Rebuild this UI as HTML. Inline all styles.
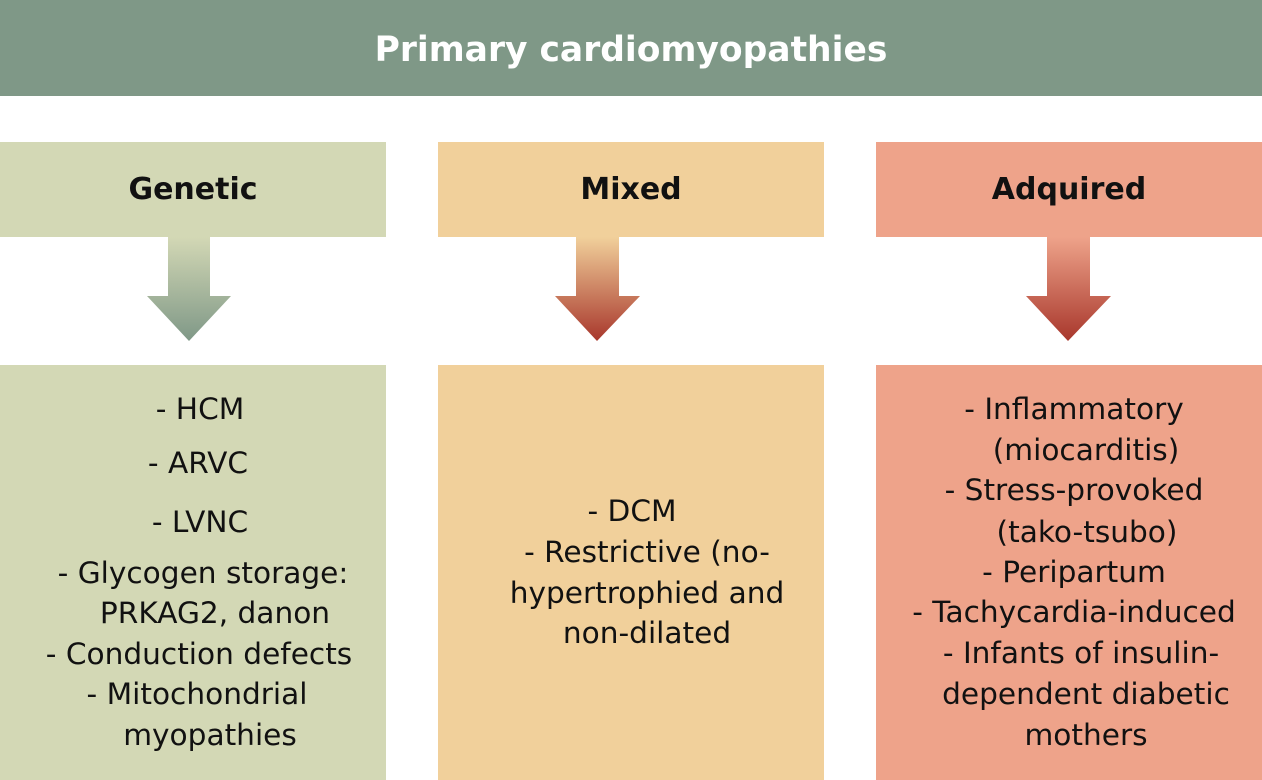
<!DOCTYPE html>
<html><head><style>
body{margin:0;width:1262px;height:780px;position:relative;background:#fff;font-family:"DejaVu Sans","Liberation Sans",sans-serif;overflow:hidden}
.b{position:absolute}
.t{position:absolute;white-space:nowrap;transform:translate(-50%,-50%);font-size:29.6px;color:#111;line-height:1}
.h{font-weight:bold;font-size:30px}
</style></head><body>
<div class="b" style="left:0;top:0;width:1262px;height:96px;background:#7f9887"></div>
<div class="t" style="left:631px;top:50px;color:#fff;font-weight:bold;font-size:34.5px">Primary cardiomyopathies</div>

<div class="b" style="left:0;top:142px;width:386px;height:95px;background:#d3d8b5"></div>
<div class="b" style="left:438px;top:142px;width:386px;height:95px;background:#f1d09b"></div>
<div class="b" style="left:876px;top:142px;width:386px;height:95px;background:#eea38a"></div>
<div class="t h" style="left:193px;top:190px">Genetic</div>
<div class="t h" style="left:631px;top:190px">Mixed</div>
<div class="t h" style="left:1069px;top:190px">Adquired</div>

<svg class="b" style="left:0;top:0" width="1262" height="780">
<defs>
<linearGradient id="g1" x1="0" y1="0" x2="0" y2="1"><stop offset="0" stop-color="#d3d8b5"/><stop offset="1" stop-color="#7f9887"/></linearGradient>
<linearGradient id="g2" x1="0" y1="0" x2="0" y2="1"><stop offset="0" stop-color="#f1d09b"/><stop offset="1" stop-color="#a8372c"/></linearGradient>
<linearGradient id="g3" x1="0" y1="0" x2="0" y2="1"><stop offset="0" stop-color="#eea38a"/><stop offset="1" stop-color="#a8372c"/></linearGradient>
</defs>
<polygon fill="url(#g1)" points="168,237 210,237 210,296 231,296 189,341 147,296 168,296"/>
<polygon fill="url(#g2)" points="576,237 619,237 619,296 640,296 597,341 555,296 576,296"/>
<polygon fill="url(#g3)" points="1047,237 1090,237 1090,296 1111,296 1068,341 1026,296 1047,296"/>
</svg>

<div class="b" style="left:0;top:365px;width:386px;height:415px;background:#d3d8b5"></div>
<div class="b" style="left:438px;top:365px;width:386px;height:415px;background:#f1d09b"></div>
<div class="b" style="left:876px;top:365px;width:386px;height:415px;background:#eea38a"></div>

<div class="t" style="left:200px;top:410px">- HCM</div>
<div class="t" style="left:198px;top:464px">- ARVC</div>
<div class="t" style="left:200px;top:523px">- LVNC</div>
<div class="t" style="left:203px;top:574px">- Glycogen storage:</div>
<div class="t" style="left:215px;top:614px">PRKAG2, danon</div>
<div class="t" style="left:199px;top:655px">- Conduction defects</div>
<div class="t" style="left:197px;top:695px">- Mitochondrial</div>
<div class="t" style="left:210px;top:736px">myopathies</div>

<div class="t" style="left:632px;top:512px">- DCM</div>
<div class="t" style="left:647px;top:553px">- Restrictive (no-</div>
<div class="t" style="left:647px;top:594px">hypertrophied and</div>
<div class="t" style="left:647px;top:634px">non-dilated</div>

<div class="t" style="left:1074px;top:410px">- Inflammatory</div>
<div class="t" style="left:1086px;top:451px">(miocarditis)</div>
<div class="t" style="left:1074px;top:491px">- Stress-provoked</div>
<div class="t" style="left:1087px;top:533px">(tako-tsubo)</div>
<div class="t" style="left:1074px;top:573px">- Peripartum</div>
<div class="t" style="left:1074px;top:613px">- Tachycardia-induced</div>
<div class="t" style="left:1081px;top:654px">- Infants of insulin-</div>
<div class="t" style="left:1086px;top:695px">dependent diabetic</div>
<div class="t" style="left:1086px;top:736px">mothers</div>
</body></html>
